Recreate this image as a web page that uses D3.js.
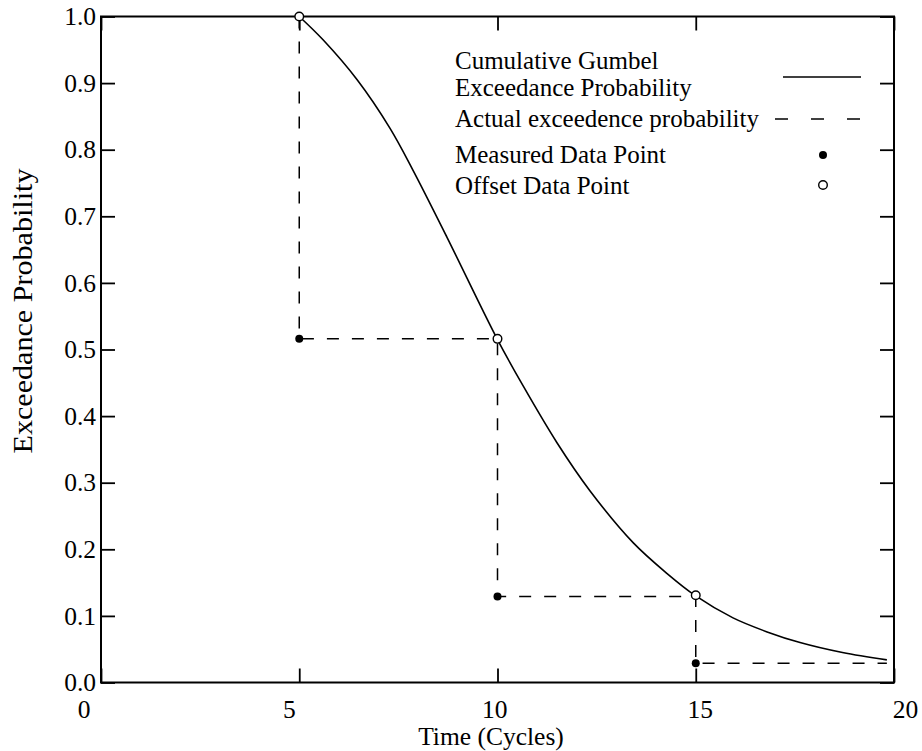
<!DOCTYPE html>
<html>
<head>
<meta charset="utf-8">
<script src="https://cdn.jsdelivr.net/npm/d3@7"></script>
<style>
  body { margin: 0; background: #fff; }
  text { font-family: "Liberation Serif", "Times New Roman", serif; fill: #000; }
</style>
</head>
<body>
<div id="chartContainer"></div>
<script>
// Data
const xTicks = [0, 5, 10, 15, 20];
const yTicks = [0, 0.1, 0.2, 0.3, 0.4, 0.5, 0.6, 0.7, 0.8, 0.9, 1.0];

// Cumulative Gumbel exceedance curve (sampled from the figure)
const curveX = [5, 5.6, 6.46, 7.29, 7.87, 8.73, 9.99, 10.64, 11.5, 12.33, 13.42, 14.27, 15, 15.94, 16.8, 17.63, 18.7, 19.82];
const curveY = [1.0, 0.965, 0.905, 0.832, 0.769, 0.668, 0.516, 0.446, 0.360, 0.288, 0.210, 0.164, 0.130, 0.097, 0.076, 0.060, 0.045, 0.034];

// Actual exceedence probability (step line)
const stepX = [5, 5, 10, 10, 15, 15, 19.82];
const stepY = [1.0, 0.516, 0.516, 0.129, 0.129, 0.029, 0.029];

// Points
const measuredX = [5, 10, 15];
const measuredY = [0.516, 0.129, 0.029];
const offsetX = [5, 10, 15];
const offsetY = [1.0, 0.516, 0.131];

const legendLabels = [
  ['Cumulative Gumbel', 'Exceedance Probability'],
  ['Actual exceedence probability'],
  ['Measured Data Point'],
  ['Offset Data Point']
];

const width = 922;
const height = 751;
const margin = { top: 16.5, right: 28, bottom: 68.5, left: 101 };

const svg = d3
  .select('#chartContainer')
  .append('svg')
  .attr('width', width)
  .attr('height', height);

const x = d3.scaleLinear().domain([0, 20]).range([margin.left, width - margin.right]);
const y = d3.scaleLinear().domain([0, 1]).range([height - margin.bottom, margin.top]);
// tick labels along the bottom sit on a slightly wider spacing in the original
const xLabel = d3.scaleLinear().domain([0, 20]).range([84, 905.5]);

// Ticks (inward on all four sides)
const tickLen = 14;
svg.append('g')
  .attr('transform', `translate(${margin.left},0)`)
  .call(d3.axisLeft(y).tickValues(yTicks).tickSize(-tickLen).tickPadding(5).tickFormat(d3.format('.1f')))
  .call(g => g.select('.domain').remove())
  .call(g => g.selectAll('line').attr('stroke-width', 1.8))
  .call(g => g.selectAll('text').attr('font-size', 25.5).attr('font-family', 'Liberation Serif'));

svg.append('g')
  .attr('transform', `translate(${width - margin.right},0)`)
  .call(d3.axisRight(y).tickValues(yTicks).tickSize(-tickLen).tickFormat(''))
  .call(g => g.select('.domain').remove())
  .call(g => g.selectAll('line').attr('stroke-width', 1.8));

svg.append('g')
  .attr('transform', `translate(0,${height - margin.bottom})`)
  .call(d3.axisBottom(x).tickValues(xTicks).tickSize(-tickLen).tickFormat(''))
  .call(g => g.select('.domain').remove())
  .call(g => g.selectAll('line').attr('stroke-width', 1.8));

svg.append('g')
  .attr('transform', `translate(0,${margin.top})`)
  .call(d3.axisTop(x).tickValues(xTicks).tickSize(-tickLen).tickFormat(''))
  .call(g => g.select('.domain').remove())
  .call(g => g.selectAll('line').attr('stroke-width', 1.8));

svg.append('g')
  .selectAll('text')
  .data(xTicks)
  .enter()
  .append('text')
  .attr('x', d => xLabel(d))
  .attr('y', 718)
  .attr('text-anchor', 'middle')
  .attr('font-size', 25.5)
  .text(d => d);

// Frame
svg.append('rect')
  .attr('x', x(0))
  .attr('y', y(1))
  .attr('width', x(20) - x(0))
  .attr('height', y(0) - y(1))
  .attr('fill', 'none')
  .attr('stroke', '#000')
  .attr('stroke-width', 2);

// Axis titles
svg.append('text')
  .attr('x', 491)
  .attr('y', 745)
  .attr('text-anchor', 'middle')
  .attr('font-size', 25.5)
  .text('Time (Cycles)');

svg.append('text')
  .attr('transform', 'translate(32,311) rotate(-90)')
  .attr('text-anchor', 'middle')
  .attr('font-size', 27)
  .attr('textLength', 285)
  .attr('lengthAdjust', 'spacingAndGlyphs')
  .text('Exceedance Probability');

// Step line (dashed)
const stepData = stepX.map((d, i) => [d, stepY[i]]);
svg.append('path')
  .attr('d', d3.line().x(d => x(d[0])).y(d => y(d[1]))(stepData))
  .attr('fill', 'none')
  .attr('stroke', '#000')
  .attr('stroke-width', 1.5)
  .attr('stroke-dasharray', '12,13');

// Gumbel curve
const curveData = curveX.map((d, i) => [d, curveY[i]]);
svg.append('path')
  .attr('d', d3.line().x(d => x(d[0])).y(d => y(d[1])).curve(d3.curveCatmullRom.alpha(0.5))(curveData))
  .attr('fill', 'none')
  .attr('stroke', '#000')
  .attr('stroke-width', 1.6);

// Measured points
svg.selectAll('.measured')
  .data(measuredX.map((d, i) => [d, measuredY[i]]))
  .enter()
  .append('circle')
  .attr('class', 'measured')
  .attr('cx', d => x(d[0]))
  .attr('cy', d => y(d[1]))
  .attr('r', 4)
  .attr('fill', '#000');

// Offset points
svg.selectAll('.offset')
  .data(offsetX.map((d, i) => [d, offsetY[i]]))
  .enter()
  .append('circle')
  .attr('class', 'offset')
  .attr('cx', d => x(d[0]))
  .attr('cy', d => y(d[1]))
  .attr('r', 4.3)
  .attr('fill', '#fff')
  .attr('stroke', '#000')
  .attr('stroke-width', 1.4);

// Legend
const legend = svg.append('g');
const textLeft = 455;
const legendSize = 25;
legend.append('text').attr('x', textLeft).attr('y', 69).attr('font-size', legendSize).text(legendLabels[0][0]);
legend.append('text').attr('x', textLeft).attr('y', 96).attr('font-size', legendSize).text(legendLabels[0][1]);
legend.append('text').attr('x', textLeft).attr('y', 127).attr('font-size', legendSize).text(legendLabels[1][0]);
legend.append('text').attr('x', textLeft).attr('y', 163).attr('font-size', legendSize).text(legendLabels[2][0]);
legend.append('text').attr('x', textLeft).attr('y', 194).attr('font-size', legendSize).text(legendLabels[3][0]);

legend.append('line')
  .attr('x1', 783).attr('x2', 861).attr('y1', 77).attr('y2', 77)
  .attr('stroke', '#000').attr('stroke-width', 1.6);
legend.append('line')
  .attr('x1', 775).attr('x2', 861).attr('y1', 119).attr('y2', 119)
  .attr('stroke', '#000').attr('stroke-width', 1.6)
  .attr('stroke-dasharray', '13,23');
legend.append('circle')
  .attr('cx', 823).attr('cy', 155).attr('r', 4).attr('fill', '#000');
legend.append('circle')
  .attr('cx', 823).attr('cy', 185).attr('r', 4.3)
  .attr('fill', '#fff').attr('stroke', '#000').attr('stroke-width', 1.4);
</script>
</body>
</html>
